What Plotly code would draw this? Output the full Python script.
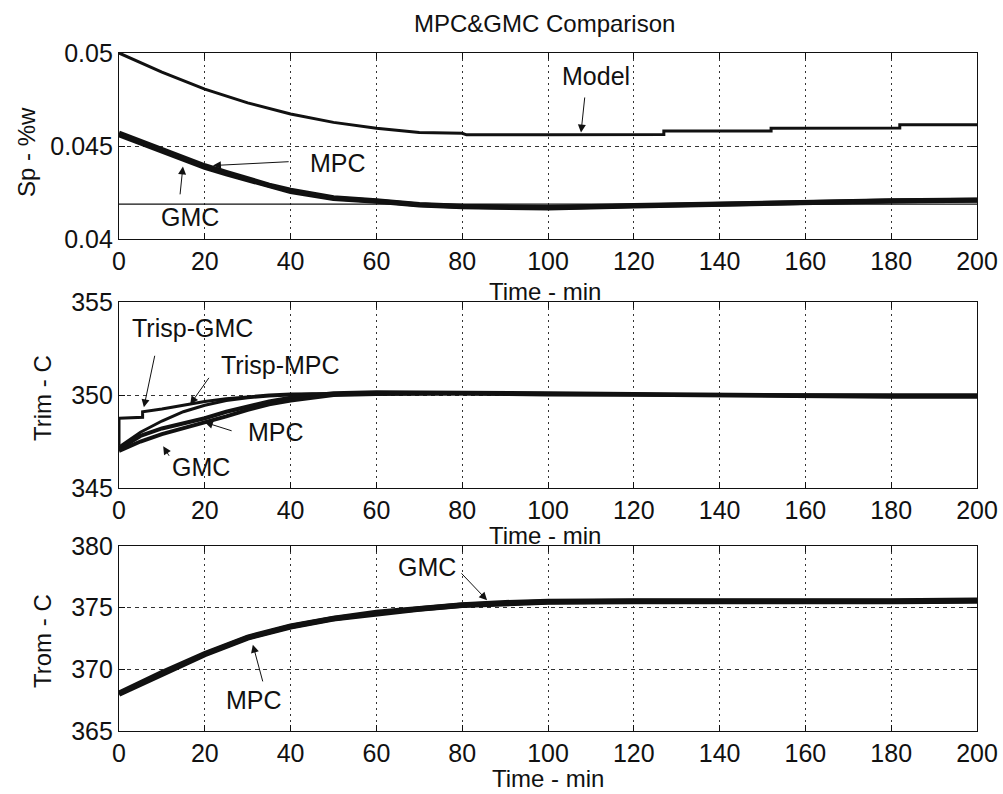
import plotly.graph_objects as go

# ---------------- data ----------------
# Top panel: Sp - %w
t_model = [0, 10, 20, 30, 40, 50, 60, 70, 80, 81, 100, 127, 127, 152, 152, 182, 182, 200]
sp_model = [0.0500, 0.04897, 0.04806, 0.04732, 0.04672, 0.04627, 0.04595, 0.04573, 0.04568,
            0.04560, 0.04560, 0.04562, 0.04580, 0.04580, 0.04595, 0.04597, 0.04614, 0.04614]

t_sp = [0, 5, 10, 15, 20, 25, 30, 35, 40, 45, 50, 60, 70, 80, 90, 100, 120, 140, 160, 180, 200]
sp_mpc = [0.04570, 0.04525, 0.04482, 0.04437, 0.04394, 0.04358, 0.04323, 0.04290, 0.04262,
          0.04240, 0.04222, 0.04206, 0.04186, 0.04176, 0.04171, 0.04169, 0.04180, 0.04189,
          0.04200, 0.04205, 0.04210]
sp_gmc = [0.04560, 0.04515, 0.04472, 0.04428, 0.04385, 0.04350, 0.04316, 0.04285, 0.04255,
          0.04236, 0.04218, 0.04203, 0.04183, 0.04173, 0.04168, 0.04166, 0.04177, 0.04187,
          0.04199, 0.04204, 0.04208]
t_sp_set = [0, 200]
sp_set = [0.04188, 0.04188]

# Middle panel: Trim - C
t_trim = [0, 5, 10, 15, 20, 25, 30, 35, 40, 45, 50, 60, 80, 100, 120, 140, 160, 180, 200]
trim_mpc = [347.1, 347.8, 348.2, 348.45, 348.75, 349.1, 349.4, 349.65, 349.85, 350.0, 350.1,
            350.15, 350.15, 350.1, 350.05, 350.0, 350.0, 349.95, 349.95]
trim_gmc = [347.0, 347.5, 347.9, 348.2, 348.5, 348.85, 349.2, 349.5, 349.7, 349.85, 350.0,
            350.05, 350.1, 350.05, 350.0, 349.95, 349.95, 349.9, 349.9]
trisp_mpc = [347.2, 348.0, 348.6, 349.1, 349.45, 349.7, 349.85, 349.95, 350.0, 350.05, 350.05,
             350.05, 350.05, 350.0, 350.0, 350.0, 350.0, 350.0, 350.0]
t_trisp_gmc = [0, 0, 5.5, 5.5, 10, 15, 20, 25, 30, 35, 40, 60, 100, 140, 200]
trisp_gmc = [347.3, 348.75, 348.8, 349.1, 349.25, 349.45, 349.65, 349.8, 349.9, 350.0, 350.05,
             350.1, 350.05, 350.0, 350.0]

# Bottom panel: Trom - C
t_trom = [0, 10, 20, 30, 40, 50, 60, 70, 80, 90, 100, 120, 140, 160, 180, 200]
trom_mpc = [368.05, 369.73, 371.27, 372.6, 373.5, 374.13, 374.6, 374.95, 375.22, 375.4, 375.5,
            375.55, 375.6, 375.55, 375.55, 375.6]
trom_gmc = [368.0, 369.65, 371.2, 372.55, 373.45, 374.1, 374.55, 374.9, 375.2, 375.38, 375.45,
            375.5, 375.55, 375.5, 375.5, 375.55]

x_ticks = [0, 20, 40, 60, 80, 100, 120, 140, 160, 180, 200]

# ---------------- figure ----------------
FONT = "Liberation Sans, Arial, sans-serif"
INK = "#111111"
fig = go.Figure()

def add(x, y, ax, width, name):
    fig.add_trace(go.Scatter(x=x, y=y, mode="lines", name=name, xaxis="x" + ax, yaxis="y" + ax,
                             line=dict(color=INK, width=width), showlegend=False, hoverinfo="skip"))

add(t_model, sp_model, "", 3, "Model")
add(t_sp_set, sp_set, "", 1.2, "Setpoint")
add(t_sp, sp_gmc, "", 5, "GMC")
add(t_sp, sp_mpc, "", 5, "MPC")

add(t_trisp_gmc, trisp_gmc, "2", 3, "Trisp-GMC")
add(t_trim, trisp_mpc, "2", 3, "Trisp-MPC")
add(t_trim, trim_mpc, "2", 4, "MPC")
add(t_trim, trim_gmc, "2", 4, "GMC")

add(t_trom, trom_gmc, "3", 5.5, "GMC")
add(t_trom, trom_mpc, "3", 5.5, "MPC")

H = 794.0
def dom(top_px, bot_px):
    return [1 - bot_px / H, 1 - top_px / H]

xcommon = dict(range=[0, 200], tickvals=x_ticks, ticks="inside", ticklen=6, tickcolor=INK,
               showline=True, linecolor=INK, linewidth=1.2, mirror="ticks", automargin=False,
               showgrid=True, gridcolor="#333333", gridwidth=1, griddash="2px,4px",
               zeroline=False, tickfont=dict(family=FONT, size=25, color=INK), domain=[0, 1])
ycommon = dict(ticks="inside", ticklen=6, tickcolor=INK, automargin=False,
               showline=True, linecolor=INK, linewidth=1.2, mirror="ticks",
               showgrid=True, gridcolor="#333333", gridwidth=1, griddash="4px,4px",
               zeroline=False, tickfont=dict(family=FONT, size=25, color=INK))

fig.update_layout(
    template="none",
    width=1003, height=794,
    margin=dict(l=119, r=26, t=0, b=0, autoexpand=False),
    paper_bgcolor="white", plot_bgcolor="white",
    xaxis=dict(xcommon, anchor="y"),
    yaxis=dict(ycommon, anchor="x", domain=dom(53, 239), range=[0.04, 0.05],
               tickvals=[0.04, 0.045, 0.05], ticktext=["0.04", "0.045", "0.05"]),
    xaxis2=dict(xcommon, anchor="y2"),
    yaxis2=dict(ycommon, anchor="x2", domain=dom(302, 488), range=[345, 355],
                tickvals=[345, 350, 355]),
    xaxis3=dict(xcommon, anchor="y3"),
    yaxis3=dict(ycommon, anchor="x3", domain=dom(546, 731), range=[365, 380],
                tickvals=[365, 370, 375, 380]),
)

def px_x(x):
    return (x - 119) / 858.0

def px_y(y):
    return 1 - y / H

anns = []
def text(s, x, y, size=25, angle=0):
    anns.append(dict(text=s, x=px_x(x), y=px_y(y), xref="paper", yref="paper", showarrow=False,
                     font=dict(family=FONT, size=size, color=INK), textangle=angle,
                     xanchor="center", yanchor="middle"))

def arrow(ax_name, tail, head):
    anns.append(dict(text="", x=head[0], y=head[1], ax=tail[0], ay=tail[1],
                     xref="x" + ax_name, yref="y" + ax_name,
                     axref="x" + ax_name, ayref="y" + ax_name,
                     showarrow=True, arrowhead=2, arrowsize=1.6, arrowwidth=1, arrowcolor=INK))

# titles
text("MPC&amp;GMC Comparison", 544, 23, size=24)
text("Time - min", 545, 291, size=24)
text("Time - min", 545, 535, size=24)
text("Time - min", 548, 778, size=24)
text("Sp - %w", 26, 152, size=24, angle=-90)
text("Trim - C", 42, 398, size=24, angle=-90)
text("Trom - C", 42, 641, size=24, angle=-90)

# top panel labels
text("Model", 596, 76)
arrow("", (108.6, 0.04769), (107.7, 0.04572))
text("MPC", 338, 163)
arrow("", (39.9, 0.04416), (21.9, 0.04395))
text("GMC", 190, 217)
arrow("", (14.2, 0.04232), (14.9, 0.04390))

# middle panel labels
text("Trisp-GMC", 192, 328)
arrow("2", (8.4, 352.19), (5.8, 349.34))
text("Trisp-MPC", 280, 365)
arrow("2", (21.2, 351.0), (16.6, 349.5))
text("MPC", 276, 432)
arrow("2", (26.6, 348.05), (20.0, 348.53))
text("GMC", 201, 467)
arrow("2", (11.9, 346.65), (10.3, 347.24))

# bottom panel labels
text("GMC", 427, 567)
arrow("3", (79.5, 377.9), (85.8, 375.6))
text("MPC", 254, 700)
arrow("3", (33.6, 368.9), (31.2, 372.0))

fig.update_layout(annotations=anns)
fig.write_html("out.html")
